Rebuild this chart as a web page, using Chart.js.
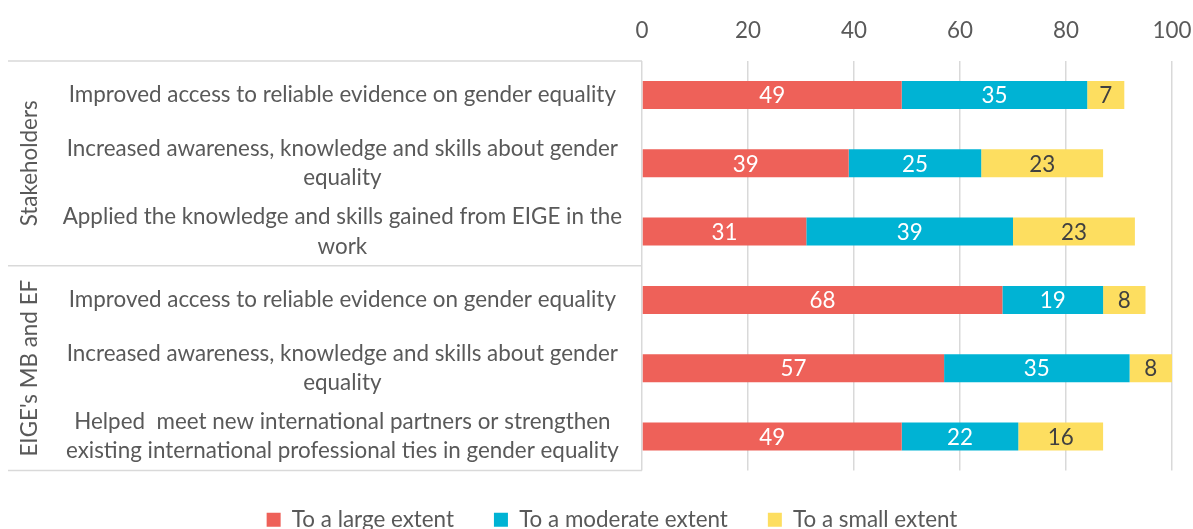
<!DOCTYPE html>
<html>
<head>
<meta charset="utf-8">
<script src="https://cdn.jsdelivr.net/npm/chart.js@4.4.1/dist/chart.umd.min.js"></script>
<style>
    html, body { margin: 0; padding: 0; background: #fff; }
    #wrap { width: 1193px; height: 529px; position: relative; }
</style>
</head>
<body>
<div id="wrap"><canvas id="effectsChart"></canvas></div>
<script>
// Survey answers, % of respondents per statement
const categories = [
    ['Improved access to reliable evidence on gender equality'],
    ['Increased awareness, knowledge and skills about gender', 'equality'],
    ['Applied the knowledge and skills gained from EIGE in the', 'work'],
    ['Improved access to reliable evidence on gender equality'],
    ['Increased awareness, knowledge and skills about gender', 'equality'],
    ['Helped  meet new international partners or strengthen', 'existing international professional ties in gender equality']
];
const groups = ['Stakeholders', "EIGE's MB and EF"];
const groupSizes = [3, 3];

const largeExtent = [49, 39, 31, 68, 57, 49];
const moderateExtent = [35, 25, 39, 19, 35, 22];
const smallExtent = [7, 23, 23, 8, 8, 16];

const seriesNames = ['To a large extent', 'To a moderate extent', 'To a small extent'];
const xTicks = [0, 20, 40, 60, 80, 100];

const FONT = 'Lato, "Open Sans", sans-serif';
const FONT_SIZE = 22.4;
const TEXT = '#595959';
const GRID = '#d9d9d9';
const LEGEND_GAP = 40;

// Value labels in the middle of each bar segment
const segmentLabels = {
    id: 'segmentLabels',
    afterDatasetsDraw(chart) {
        const ctx = chart.ctx;
        ctx.save();
        ctx.font = FONT_SIZE + 'px ' + FONT;
        ctx.textAlign = 'center';
        ctx.textBaseline = 'middle';
        chart.data.datasets.forEach((ds, di) => {
            const meta = chart.getDatasetMeta(di);
            if (meta.hidden) return;
            meta.data.forEach((bar, i) => {
                const p = bar.getProps(['x', 'y', 'base'], true);
                ctx.fillStyle = ds.labelColor;
                ctx.fillText(String(ds.data[i]), (p.x + p.base) / 2, p.y + 1);
            });
        });
        ctx.restore();
    }
};

// Outer category groups drawn left of the statement labels
const groupBrackets = {
    id: 'groupBrackets',
    afterDraw(chart) {
        const ctx = chart.ctx;
        const y = chart.scales.y;
        const left = 8;
        const right = chart.chartArea.left;
        ctx.save();
        ctx.strokeStyle = GRID;
        ctx.lineWidth = 1.5;
        let start = 0;
        const edges = [y.getPixelForValue(-0.5)];
        groupSizes.forEach(n => {
            start += n;
            edges.push(y.getPixelForValue(start - 0.5));
        });
        edges.forEach(py => {
            ctx.beginPath();
            ctx.moveTo(left, py);
            ctx.lineTo(right, py);
            ctx.stroke();
        });
        ctx.fillStyle = TEXT;
        ctx.font = FONT_SIZE + 'px ' + FONT;
        ctx.textAlign = 'center';
        ctx.textBaseline = 'middle';
        groups.forEach((name, gi) => {
            const mid = (edges[gi] + edges[gi + 1]) / 2;
            ctx.save();
            ctx.translate(30, mid);
            ctx.rotate(-Math.PI / 2);
            ctx.fillText(name, 0, 0);
            ctx.restore();
        });
        ctx.restore();
    }
};

// Legend row width counts a trailing gap; nudge the row so it sits under the plot
const legendCentre = {
    id: 'legendCentre',
    afterLayout(chart) {
        const lg = chart.legend;
        if (!lg) return;
        lg.left += LEGEND_GAP / 2 + 6;
        lg.right += LEGEND_GAP / 2 + 6;
        lg.top -= 2;
        lg.bottom -= 2;
    }
};

const ctx = document.getElementById('effectsChart');
new Chart(ctx, {
    type: 'bar',
    data: {
        labels: categories,
        datasets: [
            { label: seriesNames[0], data: largeExtent, backgroundColor: '#ee6159', labelColor: '#ffffff' },
            { label: seriesNames[1], data: moderateExtent, backgroundColor: '#00b3d4', labelColor: '#ffffff' },
            { label: seriesNames[2], data: smallExtent, backgroundColor: '#fdde60', labelColor: '#404040' }
        ]
    },
    options: {
        indexAxis: 'y',
        responsive: true,
        maintainAspectRatio: false,
        animation: false,
        categoryPercentage: 1,
        barPercentage: 0.41,
        layout: { padding: { top: 0, right: 21, bottom: -14, left: 0 } },
        scales: {
            x: {
                position: 'top',
                stacked: true,
                min: 0,
                max: 100,
                afterBuildTicks: scale => { scale.ticks = xTicks.map(v => ({ value: v })); },
                afterFit: scale => { scale.paddingLeft = 0; scale.paddingRight = 19; },
                grid: { color: GRID, lineWidth: 1.5, drawTicks: false },
                border: { display: false },
                ticks: { color: TEXT, font: { family: FONT, size: FONT_SIZE }, padding: 17 }
            },
            y: {
                stacked: true,
                grid: { display: false },
                border: { display: false },
                afterFit: scale => { scale.width = 642; },
                ticks: {
                    color: TEXT,
                    crossAlign: 'center',
                    padding: 12,
                    font: { family: FONT, size: FONT_SIZE, lineHeight: 1.32 }
                }
            }
        },
        plugins: {
            legend: {
                position: 'bottom',
                labels: {
                    color: TEXT,
                    boxWidth: 14,
                    boxHeight: 14,
                    padding: LEGEND_GAP,
                    font: { family: FONT, size: FONT_SIZE }
                }
            },
            tooltip: { enabled: false }
        }
    },
    plugins: [segmentLabels, groupBrackets, legendCentre]
});
</script>
</body>
</html>
